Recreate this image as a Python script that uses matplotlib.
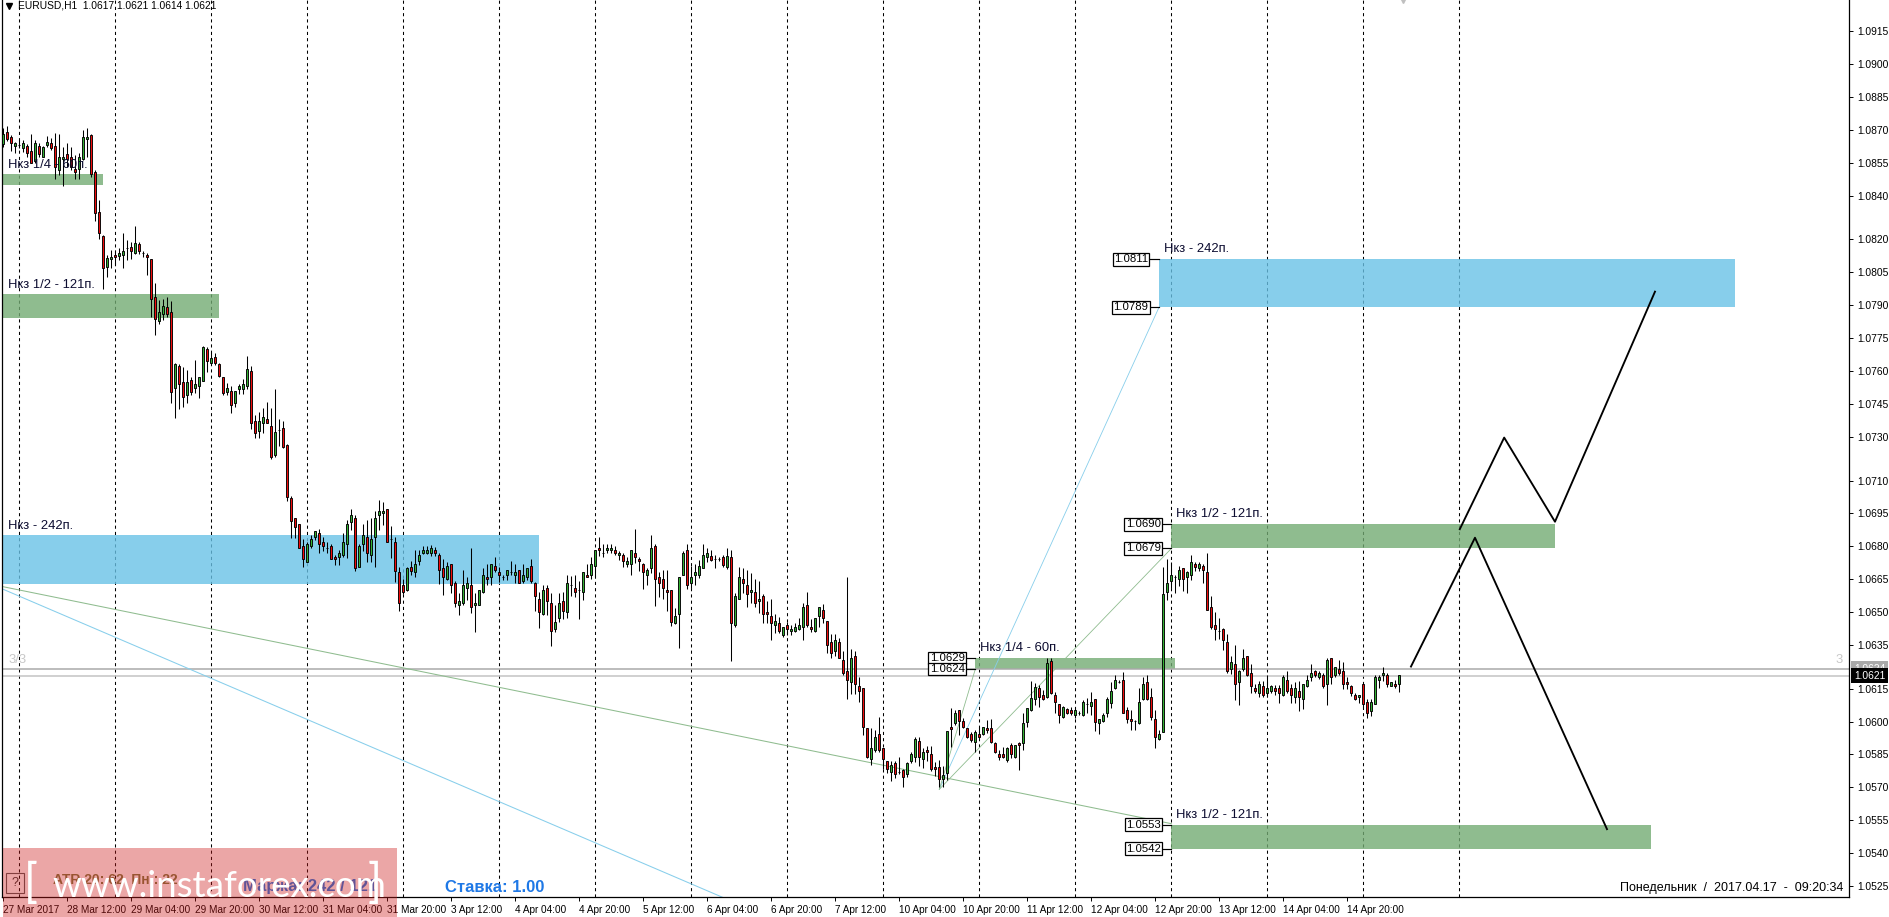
"""
EURUSD H1 candles with supply and demand zones and a hand drawn forecast.
"""

import matplotlib
matplotlib.use('Agg')
import matplotlib.pyplot as plt
from matplotlib.patches import Rectangle

# Candle values, in pips above 1.0000, one row per ten hourly bars
# ----------------------------------------------------------------------------

opens = [
    863.5, 868.9, 866.9, 862.8, 862.9, 861.9, 862.8, 860.5, 855.6, 862.8,
    857.8, 862.9, 863.9, 862.8, 851.7, 856.9, 858.8, 857.8, 852.0, 852.0,
    856.9, 865.7, 867.8, 850.6, 832.7, 821.7, 807.6, 810.9, 812.7, 812.6,
    812.7, 815.9, 816.7, 813.7, 817.8, 813.7, 812.7, 810.9, 793.9, 782.9,
    785.8, 789.0, 786.7, 752.1, 762.2, 754.8, 748.9, 755.9, 752.1, 753.0,
    755.6, 769.9, 763.8, 766.5, 763.0, 757.1, 750.6, 750.8, 745.5, 751.9,
    751.9, 753.0, 759.8, 737.0, 732.7, 736.1, 737.9, 734.7, 721.8, 732.9,
    733.8, 726.0, 701.9, 692.7, 690.0, 680.0, 673.0, 679.9, 684.1, 685.9,
    681.9, 679.0, 680.0, 674.9, 674.9, 675.8, 680.9, 690.9, 692.7, 670.7,
    680.9, 684.1, 675.8, 684.1, 694.1, 695.0, 696.8, 683.1, 681.8, 668.1,
    662.2, 660.0, 670.7, 668.1, 673.1, 676.8, 676.8, 676.8, 678.1, 675.8,
    669.9, 664.9, 671.7, 663.1, 653.0, 653.9, 660.8, 662.2, 653.1, 653.1,
    659.0, 665.8, 665.8, 670.9, 668.1, 665.8, 666.8, 668.1, 666.8, 669.0,
    664.0, 665.8, 670.9, 663.1, 655.8, 649.0, 660.8, 654.0, 642.1, 647.1,
    654.9, 649.9, 662.2, 660.8, 659.9, 659.0, 666.8, 666.8, 670.9, 679.1,
    676.8, 678.2, 678.2, 678.2, 675.9, 675.9, 671.8, 671.8, 676.8, 674.1,
    671.8, 666.8, 669.9, 680.0, 665.8, 664.9, 659.9, 659.9, 644.8, 649.0,
    666.8, 678.2, 663.1, 666.8, 666.8, 669.9, 675.0, 675.5, 674.2, 674.2,
    675.2, 670.7, 674.9, 644.0, 655.8, 664.9, 662.2, 659.0, 659.0, 654.9,
    657.2, 649.9, 648.1, 644.0, 644.9, 639.4, 644.0, 641.2, 641.2, 642.1,
    643.0, 653.1, 643.0, 641.2, 648.1, 650.8, 645.8, 636.2, 632.1, 636.2,
    628.0, 623.0, 618.1, 629.8, 616.1, 615.2, 597.0, 582.8, 586.9, 594.2,
    587.8, 581.9, 576.9, 581.0, 576.9, 578.0, 576.0, 581.9, 584.0, 591.0,
    582.8, 586.9, 585.1, 579.2, 579.2, 573.7, 576.4, 597.7, 599.2, 605.3,
    600.3, 596.9, 594.3, 590.8, 594.3, 594.2, 596.9, 596.9, 590.1, 585.1,
    585.1, 582.5, 589.2, 584.0, 590.1, 590.1, 600.0, 605.3, 610.2, 615.2,
    612.0, 611.1, 627.8, 612.0, 607.9, 602.0, 605.9, 605.1, 602.9, 603.8,
    602.9, 607.9, 607.0, 610.2, 599.2, 600.1, 603.8, 608.6, 615.2, 618.1,
    619.0, 605.1, 601.0, 600.1, 599.2, 610.2, 617.9, 611.1, 601.0, 591.9,
    595.1, 659.0, 664.0, 665.9, 665.0, 670.0, 665.9, 666.8, 671.8, 670.0,
    670.9, 668.1, 652.2, 644.0, 641.2, 642.1, 636.2, 623.9, 626.2, 618.0,
    623.9, 629.8, 622.1, 615.2, 612.9, 616.1, 612.9, 613.8, 615.2, 615.2,
    612.0, 618.9, 615.2, 611.1, 613.8, 610.2, 616.1, 620.2, 623.0, 620.2,
    621.1, 617.0, 628.9, 621.1, 623.9, 623.0, 617.9, 616.1, 612.0, 611.1,
    617.0, 608.8, 605.0, 607.9, 618.9, 621.1, 621.1, 616.1, 617.0, 617.0,
]

highs = [
    870.7, 871.8, 867.7, 864.6, 865.4, 865.4, 863.5, 868.1, 865.4, 863.9,
    862.6, 867.2, 866.1, 868.4, 868.1, 862.3, 863.9, 862.3, 858.5, 859.3,
    869.9, 870.7, 868.1, 851.7, 838.0, 822.0, 812.9, 815.2, 815.2, 815.9,
    822.8, 819.7, 819.0, 826.1, 819.0, 814.7, 813.7, 810.9, 800.0, 792.4,
    792.7, 793.9, 791.8, 763.7, 763.0, 761.9, 760.4, 757.4, 765.0, 757.4,
    771.4, 771.1, 768.8, 768.3, 763.8, 757.4, 754.4, 753.1, 750.8, 754.0,
    756.2, 766.8, 762.2, 739.9, 741.1, 742.9, 745.8, 742.9, 752.0, 737.9,
    737.1, 726.9, 702.8, 692.7, 690.0, 683.1, 682.1, 685.1, 686.8, 687.7,
    684.1, 681.8, 681.0, 676.0, 678.3, 685.9, 692.0, 697.0, 694.1, 681.0,
    690.0, 692.0, 692.7, 696.1, 701.1, 700.0, 696.8, 689.2, 684.1, 670.7,
    664.9, 670.7, 673.4, 678.3, 678.3, 680.1, 680.1, 680.4, 679.8, 676.8,
    674.0, 672.9, 671.7, 664.0, 658.9, 669.1, 665.8, 679.1, 658.8, 659.9,
    669.9, 671.8, 671.8, 675.0, 670.7, 666.9, 669.2, 673.3, 671.8, 669.2,
    671.8, 670.0, 674.2, 663.7, 659.0, 662.3, 662.2, 658.5, 653.2, 658.5,
    659.3, 666.9, 666.4, 666.9, 664.3, 668.1, 671.8, 675.3, 678.2, 684.1,
    681.0, 681.0, 681.0, 680.1, 677.7, 676.8, 675.0, 678.2, 687.7, 675.0,
    672.2, 669.9, 685.2, 681.0, 668.4, 669.0, 669.0, 659.9, 651.7, 665.8,
    677.9, 681.0, 670.9, 671.8, 673.7, 681.0, 679.1, 678.3, 676.0, 674.9,
    676.0, 679.4, 678.3, 658.6, 670.7, 670.0, 669.2, 667.7, 664.9, 664.0,
    658.2, 654.9, 655.8, 649.0, 647.9, 643.0, 645.6, 644.1, 644.9, 647.1,
    654.0, 659.0, 646.7, 647.1, 652.2, 653.5, 645.8, 639.8, 639.8, 638.0,
    632.1, 666.2, 633.0, 632.4, 620.2, 615.2, 597.0, 597.0, 596.2, 602.0,
    587.8, 581.9, 581.9, 581.9, 584.0, 578.5, 581.7, 586.3, 592.8, 592.8,
    587.8, 589.0, 589.0, 581.7, 582.5, 579.5, 595.9, 606.4, 605.3, 605.3,
    601.5, 596.9, 595.4, 596.2, 597.7, 597.7, 600.7, 601.0, 590.8, 587.0,
    588.6, 588.6, 590.1, 589.3, 590.8, 603.8, 606.0, 618.7, 617.5, 616.7,
    614.4, 628.9, 628.9, 613.7, 607.9, 607.1, 606.0, 606.8, 606.8, 604.8,
    609.9, 610.6, 613.7, 610.2, 601.0, 603.8, 611.4, 618.2, 621.3, 619.0,
    622.8, 606.8, 605.3, 600.7, 615.2, 620.5, 621.3, 615.2, 605.3, 596.2,
    670.7, 674.0, 673.0, 666.9, 670.9, 670.0, 668.9, 676.1, 673.0, 673.0,
    671.8, 676.8, 657.3, 649.9, 647.2, 642.6, 639.9, 629.8, 634.8, 623.6,
    633.0, 629.8, 626.2, 617.0, 618.4, 618.4, 621.1, 616.6, 616.6, 616.6,
    621.1, 623.1, 617.0, 617.9, 618.4, 617.0, 621.1, 626.2, 623.6, 623.0,
    622.1, 628.9, 628.9, 625.1, 628.0, 627.1, 620.2, 616.6, 612.9, 612.0,
    617.0, 610.2, 610.3, 621.1, 621.1, 624.8, 622.1, 617.9, 618.9, 621.1,
]

lows = [
    862.3, 865.1, 860.5, 859.6, 861.6, 860.0, 857.8, 854.7, 854.7, 857.8,
    857.5, 862.3, 860.8, 847.4, 849.4, 844.5, 852.9, 851.7, 847.7, 847.4,
    856.5, 857.5, 848.6, 828.6, 820.0, 797.5, 802.7, 806.8, 808.3, 810.6,
    806.8, 810.6, 810.9, 813.2, 813.2, 811.8, 803.9, 784.8, 776.5, 781.4,
    783.2, 784.8, 745.5, 738.7, 742.7, 743.4, 745.5, 749.0, 749.8, 747.8,
    755.6, 759.7, 762.7, 762.7, 757.1, 748.9, 748.9, 740.9, 743.7, 749.5,
    749.5, 751.9, 733.6, 729.5, 729.5, 731.5, 736.1, 719.9, 720.9, 725.7,
    724.7, 700.8, 683.9, 683.9, 679.0, 670.7, 673.0, 679.0, 682.8, 676.8,
    678.0, 676.8, 674.0, 671.6, 671.6, 674.9, 674.5, 687.4, 668.9, 670.7,
    678.0, 673.0, 673.0, 670.7, 687.4, 689.7, 681.8, 674.6, 663.8, 650.6,
    658.2, 659.7, 666.7, 665.8, 671.6, 676.4, 676.4, 675.5, 675.5, 662.8,
    657.7, 664.6, 658.8, 652.4, 648.6, 653.2, 655.5, 649.4, 641.0, 653.1,
    658.8, 662.2, 662.2, 668.1, 663.7, 664.6, 664.6, 666.8, 663.1, 663.1,
    663.1, 664.6, 663.1, 650.6, 642.9, 648.7, 648.8, 634.7, 641.0, 645.6,
    647.0, 647.1, 657.3, 656.7, 647.0, 655.5, 665.8, 664.9, 665.8, 675.7,
    675.0, 676.8, 676.8, 675.9, 673.7, 670.7, 670.4, 666.8, 672.2, 668.9,
    660.7, 662.2, 667.7, 652.9, 657.0, 655.8, 650.6, 643.8, 644.5, 633.7,
    666.8, 660.7, 661.1, 662.2, 665.4, 669.9, 673.0, 673.4, 669.9, 673.4,
    670.7, 669.5, 627.8, 643.0, 655.8, 658.6, 652.2, 654.0, 652.2, 649.4,
    644.9, 644.9, 637.0, 640.3, 640.3, 638.5, 639.5, 639.5, 640.9, 641.8,
    637.0, 643.0, 641.1, 640.9, 643.3, 644.9, 631.2, 628.9, 629.7, 628.9,
    621.3, 610.2, 612.6, 612.6, 609.1, 593.9, 583.3, 580.2, 586.3, 586.3,
    578.5, 576.4, 573.1, 574.1, 576.1, 570.0, 574.9, 581.3, 581.7, 579.5,
    578.7, 582.2, 577.6, 575.2, 570.0, 570.3, 573.4, 588.6, 598.4, 593.9,
    596.9, 592.4, 590.8, 586.3, 592.4, 593.9, 594.6, 590.4, 585.5, 582.5,
    583.2, 581.7, 583.2, 583.2, 577.9, 587.0, 597.7, 604.8, 607.4, 606.8,
    609.9, 610.6, 612.6, 603.8, 599.2, 601.8, 603.5, 602.9, 601.5, 602.9,
    602.7, 603.8, 603.0, 595.9, 594.2, 600.0, 602.2, 606.1, 614.7, 617.5,
    603.8, 599.2, 596.2, 596.2, 598.9, 609.9, 609.9, 600.7, 587.8, 591.6,
    595.1, 655.5, 660.8, 658.9, 661.9, 659.8, 658.9, 664.6, 668.9, 668.9,
    663.1, 650.8, 642.1, 637.0, 637.6, 632.7, 622.1, 621.6, 609.9, 607.6,
    623.3, 620.8, 613.2, 613.2, 611.1, 611.1, 611.1, 612.9, 612.0, 608.7,
    611.7, 613.2, 608.7, 608.7, 605.0, 605.9, 616.0, 618.7, 620.2, 619.3,
    615.2, 607.6, 617.0, 620.2, 621.1, 614.9, 614.8, 611.7, 609.9, 608.7,
    605.6, 601.8, 602.7, 607.9, 615.2, 618.7, 616.0, 616.1, 615.2, 613.7,
]

closes = [
    868.1, 865.7, 863.9, 863.9, 862.9, 863.9, 859.6, 854.7, 863.9, 858.8,
    862.0, 864.6, 861.9, 852.9, 857.8, 857.8, 856.9, 852.9, 850.6, 857.8,
    866.9, 866.9, 849.7, 831.9, 822.8, 806.8, 811.7, 811.8, 811.8, 813.7,
    814.9, 815.9, 814.9, 818.5, 814.9, 813.7, 811.8, 792.7, 783.9, 786.7,
    789.8, 785.8, 750.6, 763.0, 753.9, 748.0, 754.8, 750.6, 753.9, 757.1,
    770.8, 764.7, 765.7, 763.8, 757.7, 749.8, 752.1, 744.6, 750.8, 753.0,
    753.9, 760.7, 736.1, 731.8, 737.0, 738.8, 736.1, 720.9, 732.0, 732.9,
    725.1, 702.6, 691.7, 688.9, 679.0, 674.0, 680.9, 683.1, 686.8, 680.9,
    679.9, 679.0, 674.0, 674.0, 676.8, 681.8, 690.0, 694.1, 669.9, 680.0,
    685.0, 676.8, 683.1, 692.7, 695.9, 695.9, 681.8, 683.1, 668.8, 653.9,
    659.0, 669.9, 668.8, 671.7, 675.8, 678.1, 678.1, 679.0, 676.8, 669.0,
    665.8, 670.8, 662.2, 653.9, 654.9, 662.2, 663.1, 652.1, 654.0, 659.9,
    666.8, 664.9, 671.8, 669.0, 666.8, 665.8, 669.0, 668.1, 668.1, 663.1,
    666.8, 670.0, 664.0, 657.2, 649.9, 659.9, 654.9, 641.2, 645.6, 654.0,
    650.6, 663.1, 662.2, 659.0, 659.9, 668.1, 665.8, 671.8, 678.2, 678.2,
    676.8, 679.1, 679.1, 676.8, 676.8, 673.1, 673.1, 678.2, 675.0, 673.1,
    668.1, 669.0, 679.1, 664.9, 663.1, 660.8, 659.0, 645.6, 648.0, 665.8,
    676.8, 662.2, 665.8, 668.1, 670.9, 675.9, 676.8, 673.7, 674.2, 674.2,
    671.4, 675.5, 644.9, 657.2, 665.9, 663.1, 658.1, 659.9, 654.0, 655.8,
    649.0, 649.0, 644.9, 645.8, 641.2, 643.0, 642.1, 642.1, 643.0, 644.0,
    652.2, 644.0, 642.1, 647.1, 652.2, 647.1, 634.8, 631.2, 637.0, 628.9,
    622.0, 619.0, 628.9, 617.0, 613.8, 597.7, 584.0, 587.8, 592.8, 586.9,
    582.7, 578.2, 580.1, 576.0, 576.9, 574.9, 581.0, 585.1, 591.9, 583.7,
    586.3, 586.0, 578.2, 578.2, 573.7, 575.7, 595.9, 596.8, 603.8, 600.4,
    597.7, 592.8, 591.6, 595.3, 592.8, 597.7, 596.0, 590.8, 586.0, 584.0,
    584.0, 587.8, 585.1, 589.2, 589.2, 599.2, 606.0, 610.9, 615.9, 611.1,
    610.2, 626.9, 612.9, 608.8, 602.9, 606.8, 603.8, 603.8, 605.1, 603.8,
    608.8, 607.9, 608.8, 600.0, 601.0, 602.9, 610.2, 613.8, 619.0, 618.1,
    603.8, 601.0, 600.1, 600.1, 608.8, 617.0, 610.2, 601.9, 592.8, 594.2,
    658.1, 663.1, 666.8, 665.9, 669.1, 665.0, 668.1, 673.0, 670.7, 671.8,
    669.1, 650.8, 643.0, 642.1, 641.2, 637.1, 623.0, 627.1, 617.0, 623.0,
    628.9, 621.1, 616.1, 613.8, 617.0, 612.0, 615.2, 616.1, 613.8, 612.9,
    620.2, 613.8, 612.0, 615.2, 611.1, 617.0, 618.9, 622.1, 621.1, 622.1,
    616.1, 628.0, 620.2, 624.8, 622.1, 617.0, 617.0, 612.9, 610.2, 612.0,
    607.9, 603.8, 608.8, 620.2, 620.2, 622.1, 617.0, 617.9, 616.1, 621.1,
]

# Axis labels
# ----------------------------------------------------------------------------

price_ticks = [
    1.0915, 1.0900, 1.0885, 1.0870, 1.0855, 1.0840, 1.0820, 1.0805, 1.0790,
    1.0775, 1.0760, 1.0745, 1.0730, 1.0710, 1.0695, 1.0680, 1.0665, 1.0650,
    1.0635, 1.0615, 1.0600, 1.0585, 1.0570, 1.0555, 1.0540, 1.0525,
]

date_labels = [
    '27 Mar 2017', '28 Mar 12:00', '29 Mar 04:00', '29 Mar 20:00',
    '30 Mar 12:00', '31 Mar 04:00', '31 Mar 20:00', '3 Apr 12:00',
    '4 Apr 04:00', '4 Apr 20:00', '5 Apr 12:00', '6 Apr 04:00', '6 Apr 20:00',
    '7 Apr 12:00', '10 Apr 04:00', '10 Apr 20:00', '11 Apr 12:00',
    '12 Apr 04:00', '12 Apr 20:00', '13 Apr 12:00', '14 Apr 04:00',
    '14 Apr 20:00',
]

# Zones, bar positions and prices
# ----------------------------------------------------------------------------

zone_left = [-0.2, -0.2, -0.2, 288.9, 292.0, 243.0, 292.0]
zone_right = [24.9, 53.9, 133.9, 433.0, 388.0, 293.0, 412.0]
zone_top = [1.0850, 1.0795, 1.0685, 1.0811, 1.0690, 1.0629, 1.0553]
zone_bottom = [1.0845, 1.0784, 1.0663, 1.0789, 1.0679, 1.0624, 1.0542]
zone_kind = ['g', 'g', 'b', 'b', 'g', 'g', 'g']

dashed_bars = list(range(4, 365, 24))

# Trend lines and forecast paths, bar positions and prices
# ----------------------------------------------------------------------------

long_green_x = [-0.2, 292.0]
long_green_y = [1.06616, 1.05534]
long_blue_x = [-0.2, 179.8]
long_blue_y = [1.06605, 1.05198]

fan_x = [234.0, 234.0, 234.0]
fan_y = [1.05691, 1.05691, 1.05691]
fan_end_x = [288.9, 292.0, 243.0]
fan_end_y = [1.0789, 1.0679, 1.0624]
fan_kind = ['b', 'g', 'g']

path_down_x = [351.9, 367.9, 400.9]
path_down_y = [1.06251, 1.06839, 1.05509]
path_up_x = [364.1, 375.2, 387.9, 412.9]
path_up_y = [1.06878, 1.07296, 1.06912, 1.07962]

# Plot, one bar is 4 px wide and 1 pip is about 2.19 px
# ----------------------------------------------------------------------------

GREEN_ZONE = '#73ab73'
BLUE_ZONE = '#69c2e6'
LINE_GREEN = '#8fbc8f'
LINE_BLUE = '#87ceeb'
TEXT_DARK = '#0c0c30'

plt.rcParams['font.family'] = ['Liberation Sans', 'DejaVu Sans']

W, H = 1890, 917


def fx(x):
    return x / W


def fy(y):
    return 1 - y / H


fig = plt.figure(figsize=(W / 100, H / 100), dpi=100)
ax = fig.add_axes([fx(2.5), fy(897.3), fx(1849 - 2.5), 897.3 / H])
ax.set_xlim(-0.2, 461.4)
ax.set_ylim(1.05198, 1.09293)

for k in dashed_bars:
    ax.axvline(k, color='black', lw=0.75, ls=(0, (3, 3)), zorder=1)

for i in range(len(zone_left)):
    colour = GREEN_ZONE if zone_kind[i] == 'g' else BLUE_ZONE
    ax.add_patch(Rectangle((zone_left[i], zone_bottom[i]),
                           zone_right[i] - zone_left[i],
                           zone_top[i] - zone_bottom[i],
                           fc=colour, ec='none', alpha=0.8, zorder=1.5))

ax.axhline(1.0624, color='#a9a9a9', lw=1.1, zorder=1.8)
ax.axhline(1.0621, color='#c4c4c4', lw=1.1, zorder=1.8)

ax.plot(long_green_x, long_green_y, color=LINE_GREEN, lw=0.75, zorder=2)
ax.plot(long_blue_x, long_blue_y, color=LINE_BLUE, lw=0.75, zorder=2)
for i in range(len(fan_x)):
    colour = LINE_GREEN if fan_kind[i] == 'g' else LINE_BLUE
    ax.plot([fan_x[i], fan_end_x[i]], [fan_y[i], fan_end_y[i]], color=colour,
            lw=0.6, zorder=2)

# Candles
bars = range(len(opens))
o = [1 + v / 10000 for v in opens]
c = [1 + v / 10000 for v in closes]
h = [1 + v / 10000 for v in highs]
l = [1 + v / 10000 for v in lows]
ax.vlines(bars, l, h, color='black', lw=0.75, zorder=3)
body_bottom = [min(a, b) for a, b in zip(o, c)]
body_height = [abs(a - b) for a, b in zip(o, c)]
body_colour = ['#33b033' if b >= a else '#f00c0c' for a, b in zip(o, c)]
ax.bar(bars, body_height, bottom=body_bottom, width=0.55, color=body_colour,
       edgecolor='black', linewidth=0.65, zorder=3.2)

ax.plot(path_down_x, path_down_y, color='black', lw=1.35, zorder=4)
ax.plot(path_up_x, path_up_y, color='black', lw=1.35, zorder=4)

# Small price boxes next to the right hand zones
for i in range(3, len(zone_left)):
    for level in (zone_top[i], zone_bottom[i]):
        ax.plot([zone_left[i] - 2.5, zone_left[i]], [level, level],
                color='black', lw=0.85, zorder=4)
        ax.annotate(f'{level:.4f}', xy=(zone_left[i], level),
                    xytext=(-28, 0), textcoords='offset pixels',
                    ha='center', va='center', fontsize=8.2, color='black',
                    zorder=5,
                    bbox=dict(boxstyle='square,pad=0.12', fc='white',
                              ec='black', lw=0.9))

# Axes
ax.spines['top'].set_visible(False)
for side in ('left', 'bottom', 'right'):
    ax.spines[side].set_linewidth(0.9)

ax.yaxis.tick_right()
ax.set_yticks(price_ticks)
ax.set_yticklabels([f'{v:.4f}' for v in price_ticks])
ax.tick_params(axis='y', length=3, width=0.7, pad=3, labelsize=7.4)
ax.set_xticks(range(0, 16 * len(date_labels), 16))
ax.set_xticklabels(date_labels, ha='left')
ax.tick_params(axis='x', length=3, width=0.7, pad=2.5, labelsize=7.2)

for value, fc, fg in (('1.0624', '#a9a9a9', 'white'),
                      ('1.0621', 'black', 'white')):
    ax.annotate(value, xy=(1, float(value)),
                xycoords=('axes fraction', 'data'), xytext=(5, 0),
                textcoords='offset pixels', ha='left', va='center',
                fontsize=7.4, color=fg, annotation_clip=False, zorder=6,
                bbox=dict(boxstyle='square,pad=0.25', fc=fc, ec='none'))

# Texts placed on the picture
# ----------------------------------------------------------------------------

zone_texts = [
    (8, 164.7, 'Нкз 1/4 - 60п.'),
    (8, 285, 'Нкз 1/2 - 121п.'),
    (8, 525.7, 'Нкз - 242п.'),
    (1164.5, 249.3, 'Нкз - 242п.'),
    (1175.6, 514.3, 'Нкз 1/2 - 121п.'),
    (980, 648.3, 'Нкз 1/4 - 60п.'),
    (1175.6, 815, 'Нкз 1/2 - 121п.'),
]
for x, y, label in zone_texts:
    fig.text(fx(x), fy(y), label, ha='left', va='center', fontsize=9.4,
             color=TEXT_DARK, zorder=3)

fig.text(fx(18.5), fy(5.7), 'EURUSD,H1  1.0617 1.0621 1.0614 1.0621',
         ha='left', va='center', fontsize=7.4, color='black')
ax.plot([1.5], [1.09267], marker='v', color='black', ms=5, clip_on=False,
        zorder=6)
ax.plot([350], [1.09293], marker='v', color='#c0c0c0', ms=5, zorder=6)

fig.text(fx(8), fy(660), '3/3', ha='left', va='center', fontsize=9.4,
         color='#c8c8c8')
fig.text(fx(1839), fy(660), '3', ha='center', va='center', fontsize=9.4,
         color='#c8c8c8')
fig.text(fx(1843), fy(887.7), 'Понедельник  /  2017.04.17  -  09:20:34',
         ha='right', va='center', fontsize=9.0, color='black')

fig.text(fx(53), fy(880), 'ATR 20: 62  Пн.: 22', ha='left', va='center',
         fontsize=10, fontweight='bold', color='#7a7a40', zorder=5)
fig.text(fx(243), fy(887), 'Маржа: 242 / 121', ha='left', va='center',
         fontsize=12, fontweight='bold', color='#1e78e6', zorder=5)
fig.text(fx(445), fy(887), 'Ставка: 1.00', ha='left', va='center',
         fontsize=12, fontweight='bold', color='#1e78e6', zorder=5)

fig.add_artist(Rectangle((fx(6.4), fy(893.3)), fx(17.6), 20.6 / H,
                         transform=fig.transFigure, fc='none', ec='#555555',
                         lw=0.8, zorder=5))
fig.text(fx(15.2), fy(883), '?', ha='center', va='center', fontsize=9,
         color='#333333', zorder=5)

# Watermark sits over the corner of the chart
fig.add_artist(Rectangle((fx(3.2), 0), fx(393.8), 69 / H,
                         transform=fig.transFigure, fc=(0.8, 0.1, 0.1),
                         ec='none', alpha=0.39, zorder=10))
fig.text(fx(52), fy(897), 'www.instaforex.com', ha='left', va='baseline',
         fontsize=26.5, family=['Lato', 'DejaVu Sans'], fontweight='normal',
         color='white', zorder=11)
fig.text(fx(24), fy(897), '[', ha='left', va='baseline', fontsize=33,
         family=['Lato', 'DejaVu Sans'], fontweight='normal', color='white',
         zorder=11)
fig.text(fx(368), fy(897), ']', ha='left', va='baseline', fontsize=33,
         family=['Lato', 'DejaVu Sans'], fontweight='normal', color='white',
         zorder=11)

assert len(opens) == len(highs) == len(lows) == len(closes) == 350

fig.savefig('out.png', dpi=100)
